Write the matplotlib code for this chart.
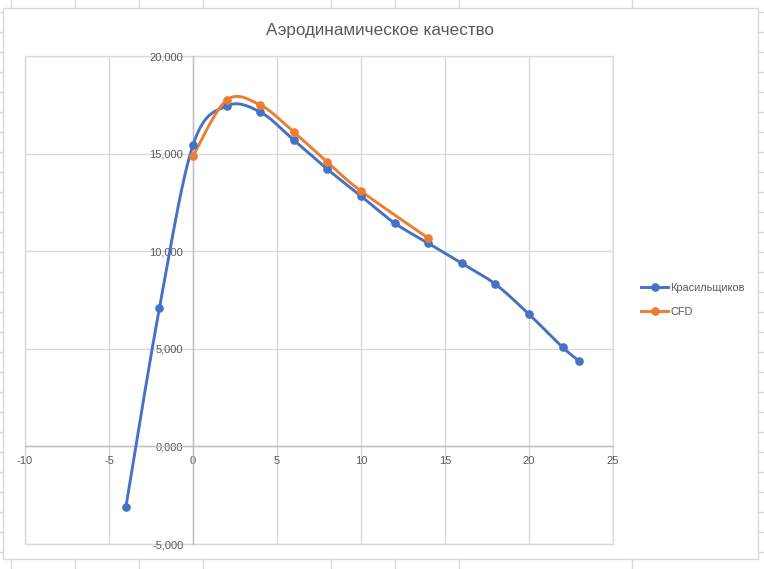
import matplotlib
matplotlib.use("Agg")
import matplotlib.pyplot as plt
import numpy as np
from matplotlib.lines import Line2D
from matplotlib.patches import Rectangle

# data
alpha_kras = [-4, -2, 0, 2, 4, 6, 8, 10, 12, 14, 16, 18, 20, 22, 23]
k_kras = [-3.13, 7.08, 15.44, 17.44, 17.13, 15.69, 14.20, 12.82, 11.44, 10.41,
          9.38, 8.31, 6.77, 5.08, 4.36]
alpha_cfd = [0, 2, 4, 6, 8, 10, 14]
k_cfd = [14.87, 17.74, 17.49, 16.10, 14.56, 13.08, 10.67]

xticks = [-10, -5, 0, 5, 10, 15, 20, 25]
yticks = [-5, 0, 5, 10, 15, 20]

BLUE = "#4472C4"
ORANGE = "#ED7D31"
GRID = "#d9d9d9"
TXT = "#595959"

plt.rcParams['font.family'] = ['Liberation Sans', 'DejaVu Sans']
plt.rcParams['axes.unicode_minus'] = False


def smooth(x, y, n=30):
    # excel-ish smoothed line: bezier with catmull-rom control points
    p = np.column_stack([x, y]).astype(float)
    out = [p[0]]
    for i in range(len(p) - 1):
        p0 = p[i - 1] if i > 0 else p[i]
        p1 = p[i]
        p2 = p[i + 1]
        p3 = p[i + 2] if i + 2 < len(p) else p[i + 1]
        c1 = p1 + (p2 - p0) / 6
        c2 = p2 - (p3 - p1) / 6
        t = np.linspace(0, 1, n)[1:, None]
        seg = ((1 - t) ** 3) * p1 + 3 * ((1 - t) ** 2) * t * c1 + 3 * (1 - t) * t ** 2 * c2 + t ** 3 * p2
        out.extend(seg)
    out = np.array(out)
    return out[:, 0], out[:, 1]


W, H = 764, 569
fig = plt.figure(figsize=(W / 100, H / 100), dpi=100)

# spreadsheet cells behind the chart
for cx in [11, 75, 139, 203, 331, 395, 459, 632]:
    fig.add_artist(Line2D([cx / W, cx / W], [1, 1 - 7 / H], color=GRID, lw=1))
    fig.add_artist(Line2D([cx / W, cx / W], [0, 1 - 559 / H], color=GRID, lw=1))
for ry in range(12, H, 20):
    fig.add_artist(Line2D([0, 3 / W], [1 - ry / H] * 2, color=GRID, lw=1))
    fig.add_artist(Line2D([758 / W, 1], [1 - ry / H] * 2, color=GRID, lw=1))
fig.add_artist(Rectangle((3.5 / W, 1 - 558.5 / H), 754 / W, 551 / H,
                         transform=fig.transFigure, fill=False, ec=GRID, lw=1))

ax = fig.add_axes([25 / W, 1 - 544 / H, 588 / W, 488 / H])
ax.set_xlim(-10, 25)
ax.set_ylim(-5, 20)
ax.set_xticks(xticks)
ax.set_yticks(yticks)
ax.set_yticklabels([f"{v:.3f}".replace('.', ',') for v in yticks])
ax.grid(True, color=GRID, lw=1)
ax.set_axisbelow(True)
for s in ['top', 'right']:
    ax.spines[s].set_visible(False)
ax.spines['left'].set_position(('data', 0))
ax.spines['bottom'].set_position(('data', 0))
for s in ['left', 'bottom']:
    ax.spines[s].set_color("#bfbfbf")
    ax.spines[s].set_linewidth(1)
ax.tick_params(length=0, labelsize=8, labelcolor=TXT, pad=7)
# plot area border
ax.add_patch(Rectangle((0, 0), 1, 1, transform=ax.transAxes, fill=False,
                       ec=GRID, lw=1, clip_on=False, zorder=0.5))

sx, sy = smooth(alpha_kras, k_kras)
ax.plot(sx, sy, color=BLUE, lw=2.1, solid_capstyle='round', zorder=3)
ax.plot(alpha_kras, k_kras, 'o', color=BLUE, ms=5.2, zorder=4)
sx, sy = smooth(alpha_cfd, k_cfd)
ax.plot(sx, sy, color=ORANGE, lw=2.1, solid_capstyle='round', zorder=3)
ax.plot(alpha_cfd, k_cfd, 'o', color=ORANGE, ms=5.2, zorder=4)

fig.text(380 / W, 1 - 31 / H, "Аэродинамическое качество", ha='center', va='center',
         fontsize=12.3, color=TXT)

handles = [Line2D([], [], color=BLUE, lw=2.1, marker='o', ms=5.2),
           Line2D([], [], color=ORANGE, lw=2.1, marker='o', ms=5.2)]
fig.legend(handles, ["Красильщиков", "CFD"], loc='upper left',
           bbox_to_anchor=(631 / W, 1 - 273 / H), frameon=False, fontsize=7.9,
           labelcolor=TXT, handlelength=2.5, handletextpad=0.2, labelspacing=1.25)

fig.savefig("out.png", dpi=100)
